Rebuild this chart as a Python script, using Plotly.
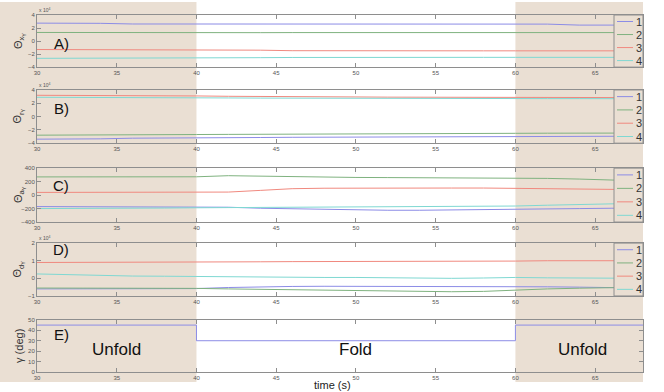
import plotly.graph_objects as go

# ---------------- data ----------------
t = [30, 32, 34, 36, 38, 40, 42, 44, 46, 48, 50, 52, 54, 56, 58, 60, 62, 64, 66, 68]

# Panel A (x 10^4)
a1 = [2.75, 2.75, 2.72, 2.62, 2.62, 2.62, 2.62, 2.6, 2.6, 2.6, 2.6, 2.6, 2.6, 2.6, 2.6, 2.6, 2.6, 2.45, 2.45, 2.45]
a2 = [1.32, 1.3, 1.3, 1.3, 1.31, 1.3, 1.3, 1.29, 1.3, 1.3, 1.3, 1.3, 1.3, 1.31, 1.3, 1.3, 1.3, 1.3, 1.3, 1.3]
a3 = [-1.3, -1.3, -1.3, -1.3, -1.3, -1.3, -1.32, -1.4, -1.48, -1.5, -1.5, -1.5, -1.5, -1.5, -1.5, -1.5, -1.5, -1.5, -1.5, -1.5]
a4 = [-2.65, -2.65, -2.65, -2.65, -2.65, -2.65, -2.62, -2.55, -2.52, -2.5, -2.5, -2.5, -2.5, -2.5, -2.5, -2.5, -2.5, -2.5, -2.5, -2.5]

# Panel B (x 10^4)
b1 = [-3.4, -3.4, -3.35, -3.25, -3.25, -3.22, -3.2, -3.15, -3.12, -3.1, -3.1, -3.08, -3.05, -3.05, -3.02, -3.0, -3.0, -2.98, -2.95, -2.95]
b2 = [-2.8, -2.8, -2.78, -2.75, -2.72, -2.7, -2.68, -2.65, -2.62, -2.6, -2.58, -2.56, -2.55, -2.54, -2.53, -2.52, -2.5, -2.5, -2.48, -2.48]
b3 = [3.2, 3.2, 3.2, 3.18, 3.15, 3.1, 3.05, 3.0, 3.0, 2.98, 2.95, 2.92, 2.9, 2.9, 2.88, 2.88, 2.86, 2.85, 2.85, 2.85]
b4 = [2.9, 2.9, 2.9, 2.88, 2.85, 2.82, 2.8, 2.78, 2.76, 2.75, 2.75, 2.74, 2.72, 2.72, 2.7, 2.7, 2.7, 2.7, 2.68, 2.68]

# Panel C
c1 = [-170, -170, -170, -170, -172, -175, -180, -195, -205, -215, -222, -225, -225, -222, -220, -215, -210, -200, -195, -190]
c2 = [270, 270, 270, 270, 270, 272, 288, 280, 272, 268, 262, 260, 258, 258, 258, 255, 248, 238, 225, 210]
c3 = [40, 40, 40, 40, 40, 40, 45, 70, 95, 102, 105, 105, 105, 105, 105, 100, 95, 90, 85, 80]
c4 = [-200, -200, -198, -195, -192, -188, -186, -185, -184, -183, -182, -180, -178, -176, -170, -162, -150, -140, -128, -120]

# Panel D (x 10^4)
d1 = [-0.6, -0.6, -0.6, -0.6, -0.6, -0.58, -0.52, -0.48, -0.46, -0.45, -0.45, -0.45, -0.45, -0.45, -0.45, -0.45, -0.48, -0.5, -0.52, -0.55]
d2 = [-0.55, -0.55, -0.55, -0.55, -0.56, -0.57, -0.6, -0.62, -0.65, -0.68, -0.7, -0.72, -0.75, -0.76, -0.74, -0.66, -0.6, -0.56, -0.52, -0.5]
d3 = [0.9, 0.9, 0.9, 0.9, 0.92, 0.92, 0.93, 0.94, 0.95, 0.95, 0.96, 0.96, 0.97, 0.97, 0.98, 0.98, 1.0, 1.0, 1.0, 1.0]
d4 = [0.25, 0.2, 0.15, 0.13, 0.12, 0.1, 0.1, 0.08, 0.06, 0.05, 0.05, 0.03, 0.02, 0.0, 0.02, 0.05, 0.03, 0.02, 0.0, 0.0]

# Panel E: fold angle
t_e = [30, 40, 60, 68]
gamma = [45, 30, 45, 45]

series_names = ["1", "2", "3", "4"]
colors = ["#8c8ce6", "#7fb27f", "#f0897f", "#7fd8d2"]

panel_letters = ["A)", "B)", "C)", "D)", "E)"]
ytitles = ["Θ<sub>x<sub>Y</sub></sub>", "Θ<sub>r<sub>Y</sub></sub>",
           "Θ<sub>a<sub>Y</sub></sub>", "Θ<sub>d<sub>Y</sub></sub>", "γ (deg)"]
yranges = [[-4, 4], [-4, 4], [-400, 400], [-1, 2], [0, 50]]
ytickvals = [[-4, -2, 0, 2, 4], [-4, -2, 0, 2, 4], [-400, -200, 0, 200, 400],
             [-1, 0, 1, 2], [0, 10, 20, 30, 40, 50]]
xticks = [30, 35, 40, 45, 50, 55, 60, 65]
phase_labels = ["Unfold", "Fold", "Unfold"]
phase_x = [35, 50, 64.2]
phase_bounds = [40, 60]
xr = [30, 68]

# ---------------- layout geometry ----------------
W, H = 664, 392
ml, mr, mt, mb = 37, 21, 15, 20
domains = [[0.854, 1.0], [0.641, 0.790], [0.420, 0.571], [0.213, 0.361], [0.0, 0.146]]
letter_y = [0.46, 0.66, 0.685, 0.87, 0.71]

tan = "#eadfd3"
grey = "#8e8e8e"
tickfont = dict(size=6, color="#555555", family="Liberation Sans, Arial")

fig = go.Figure()
panels = [[a1, a2, a3, a4], [b1, b2, b3, b4], [c1, c2, c3, c4], [d1, d2, d3, d4]]

for p, ser in enumerate(panels):
    ax = "" if p == 0 else str(p + 1)
    for i, y in enumerate(ser):
        fig.add_trace(go.Scatter(x=t, y=y, mode="lines", name=series_names[i],
                                 line=dict(color=colors[i], width=1),
                                 xaxis="x" + ax, yaxis="y" + ax, showlegend=False))
fig.add_trace(go.Scatter(x=t_e, y=gamma, mode="lines", line=dict(color=colors[0], width=1, shape="hv"),
                         xaxis="x5", yaxis="y5", showlegend=False))

shapes = []
annotations = []
plot_w = W - ml - mr
plot_h = H - mt - mb
span = xr[1] - xr[0]

# background phase shading (whole figure height)
shapes.append(dict(type="rect", xref="x5 domain", yref="paper",
                   x0=-ml / plot_w - 0.01, x1=(phase_bounds[0] - xr[0]) / span,
                   y0=-10 / plot_h, y1=1 + 13 / plot_h,
                   fillcolor=tan, line=dict(width=0), layer="below"))
shapes.append(dict(type="rect", xref="x5 domain", yref="paper",
                   x0=(phase_bounds[1] - xr[0]) / span, x1=1,
                   y0=-10 / plot_h, y1=1 + 13 / plot_h,
                   fillcolor=tan, line=dict(width=0), layer="below"))

for p in range(5):
    ax = "" if p == 0 else str(p + 1)
    fig.layout["xaxis" + ax] = dict(domain=[0, 1], anchor="y" + ax, range=xr,
                                    tickvals=xticks, ticks="inside", ticklen=4, tickcolor=grey,
                                    showline=True, linecolor=grey, linewidth=1, mirror="ticks",
                                    showgrid=False, zeroline=False, tickfont=tickfont)
    fig.layout["yaxis" + ax] = dict(domain=domains[p], anchor="x" + ax, range=yranges[p],
                                    tickvals=ytickvals[p], ticks="inside", ticklen=4, tickcolor=grey,
                                    showline=True, linecolor=grey, linewidth=1, mirror="ticks",
                                    showgrid=False, zeroline=False, tickfont=tickfont)
    # panel letter
    annotations.append(dict(text=panel_letters[p], xref="x" + ax + " domain", yref="y" + ax + " domain",
                            x=0.04, y=letter_y[p], showarrow=False, xanchor="center", yanchor="middle",
                            font=dict(size=15, color="#111111", family="Liberation Sans, Arial")))
    # y title
    annotations.append(dict(text=ytitles[p], xref="paper", yref="y" + ax + " domain",
                            x=-18 / plot_w, y=0.5, textangle=-90, showarrow=False,
                            xanchor="center", yanchor="middle",
                            font=dict(size=11, color="#333333", family="Liberation Sans, Arial")))
    if p in (0, 1, 3):
        annotations.append(dict(text="x 10<sup>4</sup>", xref="x" + ax + " domain", yref="y" + ax + " domain",
                                x=0.0, y=1.0, showarrow=False, xanchor="left", yanchor="bottom",
                                font=dict(size=5, color="#555555", family="Liberation Sans, Arial")))
    if p < 4:
        # legend box
        bx0 = (614 - ml) / plot_w
        shapes.append(dict(type="rect", xref="x" + ax + " domain", yref="y" + ax + " domain",
                           x0=bx0, x1=1, y0=0, y1=1, fillcolor=tan,
                           line=dict(color=grey, width=1), layer="above"))
        for i in range(4):
            yy = 1 - (i + 0.5) / 4
            shapes.append(dict(type="line", xref="x" + ax + " domain", yref="y" + ax + " domain",
                               x0=(617 - ml) / plot_w, x1=(633 - ml) / plot_w, y0=yy, y1=yy,
                               line=dict(color=colors[i], width=1), layer="above"))
            annotations.append(dict(text=series_names[i], xref="x" + ax + " domain", yref="y" + ax + " domain",
                                    x=(638.5 - ml) / plot_w, y=yy, showarrow=False,
                                    xanchor="center", yanchor="middle", borderpad=0,
                                    font=dict(size=11, color="#333333", family="Liberation Sans, Arial")))

for lab, xx in zip(phase_labels, phase_x):
    annotations.append(dict(text=lab, xref="x5", yref="y5 domain", x=xx, y=0.44, showarrow=False,
                            xanchor="center", yanchor="middle",
                            font=dict(size=17, color="#111111", family="Liberation Sans, Arial")))

annotations.append(dict(text="time (s)", xref="x5 domain", yref="paper", x=0.5, y=-mb / plot_h,
                        xshift=-8, showarrow=False, xanchor="center", yanchor="bottom", borderpad=0,
                        font=dict(size=11, color="#222222", family="Liberation Sans, Arial")))

fig.update_layout(width=W, height=H, margin=dict(l=ml, r=mr, t=mt, b=mb),
                  paper_bgcolor="white", plot_bgcolor="rgba(0,0,0,0)",
                  shapes=shapes, annotations=annotations, showlegend=False)

fig.write_html("out.html")
